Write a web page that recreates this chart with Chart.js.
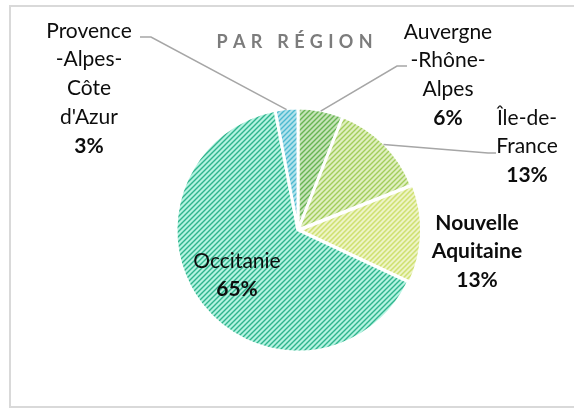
<!DOCTYPE html>
<html>
<head>
<meta charset="utf-8">
<script src="https://cdn.jsdelivr.net/npm/chart.js@4"></script>
<style>
  html, body { margin: 0; padding: 0; background: #fff; }
  #wrap { width: 574px; height: 408px; position: relative; }
</style>
</head>
<body>
<div id="wrap"><canvas id="regionChart" width="574" height="408"></canvas></div>
<script>
// data
const regions = ['Auvergne-Rhône-Alpes', 'Île-de-France', 'Nouvelle Aquitaine', 'Occitanie', "Provence-Alpes-Côte d'Azur"];
const shares = [6, 13, 13, 65, 3];
const labelLines = [
  ['Auvergne', '-Rhône-', 'Alpes'],
  ['Île-de-', 'France'],
  ['Nouvelle', 'Aquitaine'],
  ['Occitanie'],
  ['Provence', '-Alpes-', 'Côte', "d'Azur"]
];
const chartTitle = 'PAR RÉGION';

// fills: base tint + diagonal hatch colour
const baseColors = ['#c6e4b8', '#e0efc0', '#f0f6cc', '#b4f3e1', '#b2e2ec'];
const hatchColors = ['#68b452', '#a2cd5c', '#cadd62', '#2eb48c', '#4cb9cf'];
const offsets = [0, 0, 5, 0, 0];

// where each label block sits (x centre, first line y) and leader elbow
const labelSpots = [
  { x: 448, y: 32, bold: false, leader: [[407, 66], [397, 66]] },
  { x: 527, y: 118, bold: false, leader: [[496, 153], [488, 153]] },
  { x: 477, y: 223, bold: true, leader: null },
  { x: 237, y: 261, bold: false, leader: null },
  { x: 89, y: 31, bold: false, leader: [[140, 37], [151, 37]] }
];

const FONT = 'Lato, "Open Sans", sans-serif';
const LINE_H = 28.7;

function makeHatch(base, hatch) {
  const size = 5;
  const c = document.createElement('canvas');
  c.width = size;
  c.height = size;
  const g = c.getContext('2d');
  g.fillStyle = base;
  g.fillRect(0, 0, size, size);
  g.strokeStyle = hatch;
  g.lineWidth = 1.4;
  g.beginPath();
  g.moveTo(-1, size + 1);
  g.lineTo(size + 1, -1);
  g.moveTo(-1, 1);
  g.lineTo(1, -1);
  g.moveTo(size - 1, size + 1);
  g.lineTo(size + 1, size - 1);
  g.stroke();
  return g.createPattern(c, 'repeat');
}

const fills = baseColors.map((b, i) => makeHatch(b, hatchColors[i]));

const frameAndLabels = {
  id: 'frameAndLabels',
  beforeDraw(chart) {
    const ctx = chart.ctx;
    ctx.save();
    ctx.fillStyle = '#fff';
    ctx.fillRect(0, 0, chart.width, chart.height);
    ctx.strokeStyle = '#d9d9d9';
    ctx.lineWidth = 2;
    ctx.strokeRect(10, 6, chart.width + 10, chart.height - 7);

    // spaced-out title
    ctx.font = 'bold 18px ' + FONT;
    ctx.fillStyle = '#7c7c7c';
    ctx.textBaseline = 'middle';
    const spacing = 5.3;
    const chars = chartTitle.split('');
    const widths = chars.map(ch => ctx.measureText(ch).width);
    const total = widths.reduce((a, b) => a + b, 0) + spacing * (chars.length - 1);
    let tx = 294.5 - total / 2;
    chars.forEach((ch, i) => {
      ctx.fillText(ch, tx, 42);
      tx += widths[i] + spacing;
    });
    ctx.restore();
  },
  afterDatasetsDraw(chart) {
    const ctx = chart.ctx;
    const arcs = chart.getDatasetMeta(0).data;
    ctx.save();
    arcs.forEach((arc, i) => {
      const spot = labelSpots[i];
      if (spot.leader) {
        const mid = (arc.startAngle + arc.endAngle) / 2;
        const r = arc.outerRadius - 1;
        const sx = arc.x + Math.cos(mid) * r;
        const sy = arc.y + Math.sin(mid) * r;
        ctx.strokeStyle = '#a6a6a6';
        ctx.lineWidth = 1.5;
        ctx.beginPath();
        ctx.moveTo(sx, sy);
        ctx.lineTo(spot.leader[1][0], spot.leader[1][1]);
        ctx.lineTo(spot.leader[0][0], spot.leader[0][1]);
        ctx.stroke();
      }
      ctx.fillStyle = '#0d0d0d';
      ctx.textAlign = 'center';
      ctx.textBaseline = 'middle';
      const lines = labelLines[i];
      ctx.font = (spot.bold ? 'bold ' : '') + '21px ' + FONT;
      lines.forEach((ln, k) => ctx.fillText(ln, spot.x, spot.y + k * LINE_H));
      ctx.font = 'bold 21px ' + FONT;
      ctx.fillText(shares[i] + '%', spot.x, spot.y + lines.length * LINE_H);
    });
    ctx.restore();
  }
};

new Chart(document.getElementById('regionChart'), {
  type: 'pie',
  data: {
    labels: regions,
    datasets: [{
      data: shares,
      backgroundColor: fills,
      borderColor: '#ffffff',
      borderWidth: 3,
      offset: offsets
    }]
  },
  options: {
    responsive: false,
    animation: false,
    radius: 122,
    layout: { padding: { left: 22, right: 0, top: 52, bottom: 0 } },
    plugins: {
      legend: { display: false },
      tooltip: { enabled: false },
      title: { display: false }
    }
  },
  plugins: [frameAndLabels]
});
</script>
</body>
</html>
